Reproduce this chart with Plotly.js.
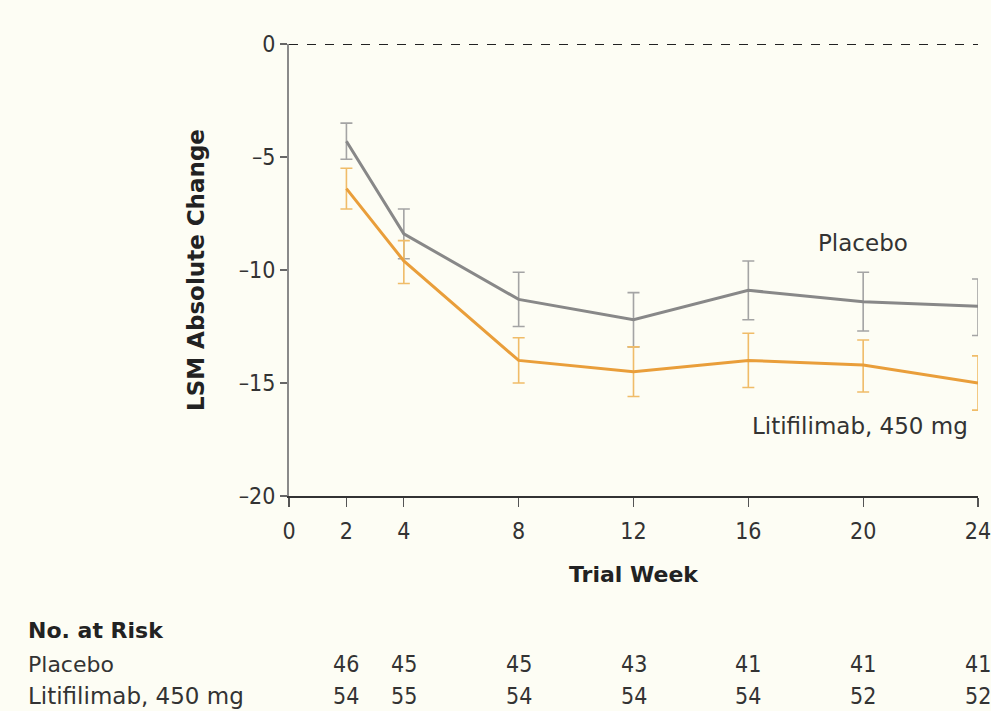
<!DOCTYPE html>
<html>
<head>
<meta charset="utf-8">
<script src="https://cdn.plot.ly/plotly-3.0.1.min.js"></script>
<style>html,body{margin:0;padding:0;background:#FDFDF4;}#chart{width:991px;height:711px;}</style>
</head>
<body>
<div id="chart"></div>
<script>
// Data
const weeks = [2, 4, 8, 12, 16, 20, 24];
const placeboMean = [-4.3, -8.4, -11.3, -12.2, -10.9, -11.4, -11.6];
const placeboUpper = [-3.5, -7.3, -10.1, -11.0, -9.6, -10.1, -10.4];
const placeboLower = [-5.1, -9.5, -12.5, -13.4, -12.2, -12.7, -12.9];
const litiMean = [-6.4, -9.6, -14.0, -14.5, -14.0, -14.2, -15.0];
const litiUpper = [-5.5, -8.7, -13.0, -13.4, -12.8, -13.1, -13.8];
const litiLower = [-7.3, -10.6, -15.0, -15.6, -15.2, -15.4, -16.2];
const riskPlacebo = [46, 45, 45, 43, 41, 41, 41];
const riskLiti = [54, 55, 54, 54, 54, 52, 52];
const xTicks = [0, 2, 4, 8, 12, 16, 20, 24];
const yTicks = [0, -5, -10, -15, -20];

const narrow = "'DejaVu Sans Condensed', 'Liberation Sans Narrow', 'DejaVu Sans', sans-serif";
const sans = "'DejaVu Sans', sans-serif";

function plus(m, u) { return m.map((v, i) => u[i] - v); }
function minus(m, l) { return m.map((v, i) => v - l[i]); }

const traces = [
  {
    x: weeks, y: placeboMean, type: 'scatter', mode: 'lines',
    line: {color: '#888888', width: 3},
    error_y: {type: 'data', symmetric: false, array: plus(placeboMean, placeboUpper),
      arrayminus: minus(placeboMean, placeboLower), color: '#A4A4A4', thickness: 1.6, width: 6},
    hoverinfo: 'skip', showlegend: false
  },
  {
    x: weeks, y: litiMean, type: 'scatter', mode: 'lines',
    line: {color: '#E99E3A', width: 3},
    error_y: {type: 'data', symmetric: false, array: plus(litiMean, litiUpper),
      arrayminus: minus(litiMean, litiLower), color: '#F0BC68', thickness: 1.6, width: 6},
    hoverinfo: 'skip', showlegend: false
  }
];

const L = 289, R = 13, T = 44, B = 215, W = 991, H = 711;
const pw = W - L - R, ph = H - T - B;
const px2x = p => (p - L) / pw;
const px2y = p => (H - B - p) / ph;

const annotations = [
  {x: 20, y: -8.8, xref: 'x', yref: 'y', text: 'Placebo', showarrow: false,
   xanchor: 'center', yanchor: 'middle', font: {family: sans, size: 23, color: '#333'}},
  {x: 19.9, y: -16.9, xref: 'x', yref: 'y', text: 'Litifilimab, 450 mg', showarrow: false,
   xanchor: 'center', yanchor: 'middle', font: {family: sans, size: 23, color: '#333'}},
  {x: px2x(26), y: px2y(630), xref: 'paper', yref: 'paper', text: '<b>No. at Risk</b>', showarrow: false,
   xanchor: 'left', yanchor: 'middle', font: {family: sans, size: 22, color: '#222'}},
  {x: px2x(26), y: px2y(664), xref: 'paper', yref: 'paper', text: 'Placebo', showarrow: false,
   xanchor: 'left', yanchor: 'middle', font: {family: sans, size: 22, color: '#333'}},
  {x: px2x(26), y: px2y(696), xref: 'paper', yref: 'paper', text: 'Litifilimab, 450 mg', showarrow: false,
   xanchor: 'left', yanchor: 'middle', font: {family: sans, size: 23, color: '#333'}}
];
weeks.forEach((w, i) => {
  annotations.push({x: w, y: px2y(664), xref: 'x', yref: 'paper', text: String(riskPlacebo[i]),
    showarrow: false, xanchor: 'center', yanchor: 'middle', font: {family: narrow, size: 23, color: '#333'}});
  annotations.push({x: w, y: px2y(696), xref: 'x', yref: 'paper', text: String(riskLiti[i]),
    showarrow: false, xanchor: 'center', yanchor: 'middle', font: {family: narrow, size: 23, color: '#333'}});
});

const layout = {
  width: W, height: H,
  margin: {l: L, r: R, t: T, b: B},
  paper_bgcolor: '#FDFDF4', plot_bgcolor: '#FDFDF4',
  showlegend: false,
  xaxis: {
    range: [0, 24], tickvals: xTicks, ticktext: xTicks.map(String),
    showgrid: false, zeroline: false, showline: true, linecolor: '#333', linewidth: 2,
    ticks: 'outside', ticklen: 9, tickwidth: 1.2, tickcolor: '#555', ticklabelstandoff: 4,
    ticklabeloverflow: 'allow',
    tickfont: {family: narrow, size: 23, color: '#333'},
    title: {text: '<b>Trial Week</b>', standoff: 24, font: {family: sans, size: 22, color: '#222'}},
    fixedrange: true
  },
  yaxis: {
    range: [-20, 0], tickvals: yTicks, ticktext: yTicks.map(v => v === 0 ? '0' : '\u2013' + Math.abs(v)),
    showgrid: false, zeroline: false, showline: true, linecolor: '#8A8A8A', linewidth: 2,
    ticks: 'outside', ticklen: 7, tickwidth: 1.2, tickcolor: '#666',
    tickfont: {family: narrow, size: 23, color: '#333'},
    title: {text: '<b>LSM Absolute Change</b>', standoff: 28, font: {family: sans, size: 23, color: '#222'}},
    fixedrange: true
  },
  shapes: [
    {type: 'line', xref: 'paper', yref: 'y', x0: 0, x1: 1, y0: 0, y1: 0,
     line: {color: '#222', width: 1.8, dash: 'dash'}}
  ],
  annotations: annotations
};

Plotly.newPlot('chart', traces, layout, {displayModeBar: false, staticPlot: true});
</script>
</body>
</html>
